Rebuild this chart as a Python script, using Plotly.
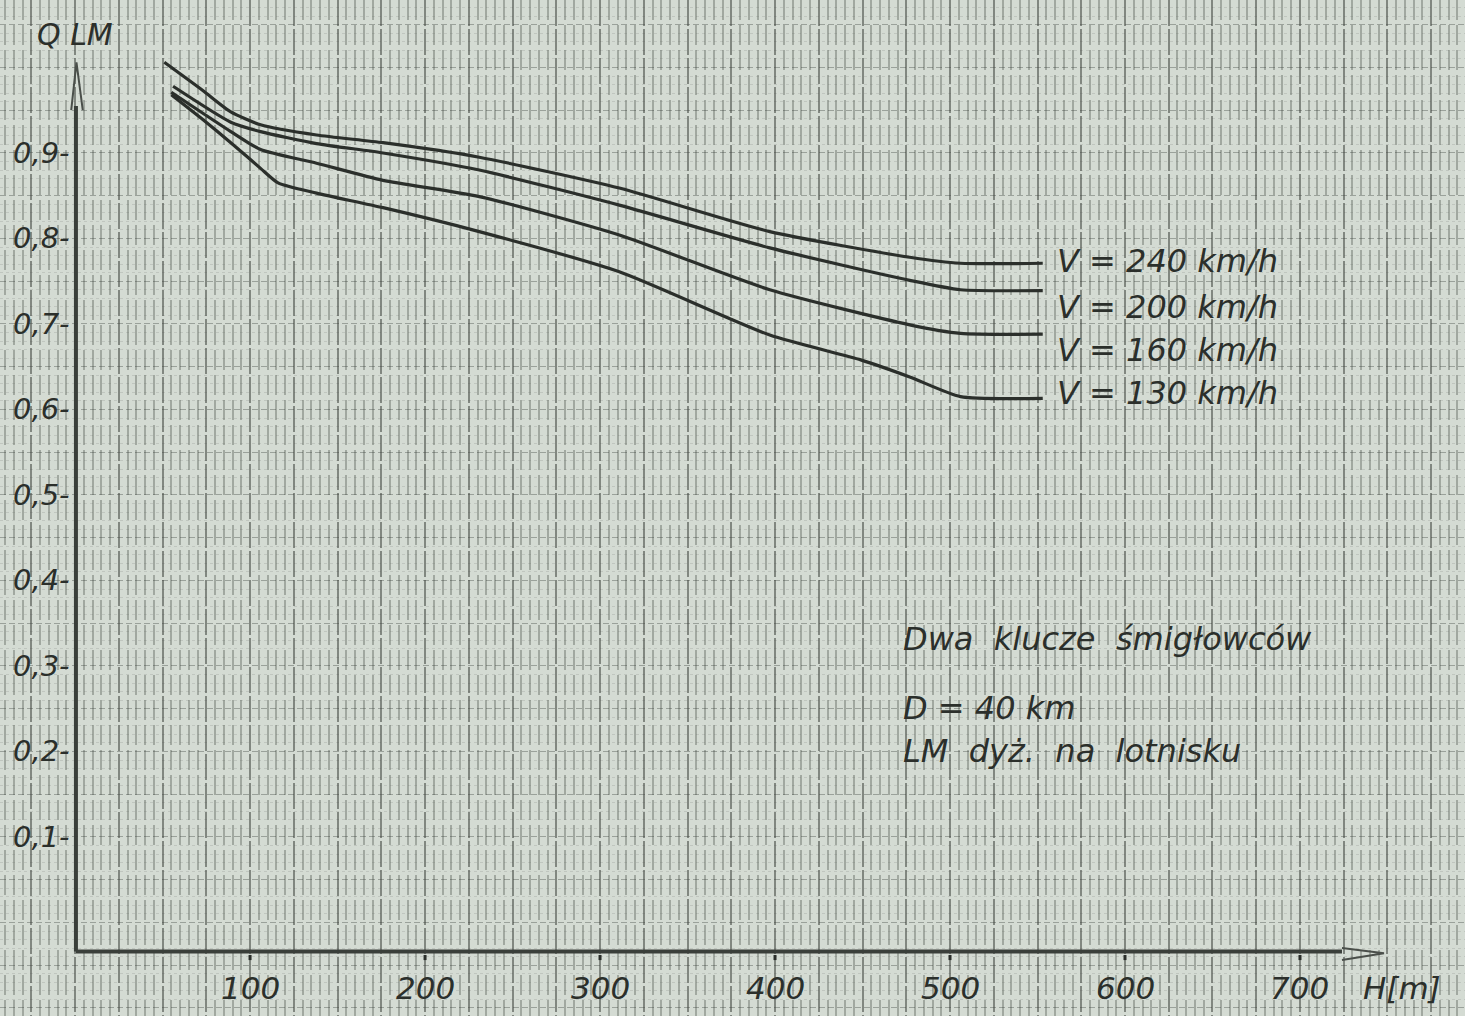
import plotly.graph_objects as go

# Flight altitude H [m] and probability Q_LM for each helicopter speed
H_240 = [51, 73, 89, 106, 138, 176, 231, 311, 397, 477, 506, 553]
Q_240 = [1.006, 0.973, 0.948, 0.933, 0.921, 0.912, 0.895, 0.859, 0.808, 0.778, 0.771, 0.771]

H_200 = [56, 89, 106, 138, 176, 231, 311, 397, 477, 506, 553]
Q_200 = [0.978, 0.936, 0.925, 0.911, 0.900, 0.880, 0.839, 0.789, 0.751, 0.740, 0.739]

H_160 = [55, 89, 106, 138, 176, 231, 311, 397, 477, 506, 553]
Q_160 = [0.971, 0.925, 0.904, 0.888, 0.868, 0.849, 0.804, 0.740, 0.699, 0.689, 0.688]

H_130 = [55, 73, 89, 106, 116, 138, 176, 231, 311, 397, 449, 477, 506, 553]
Q_130 = [0.968, 0.939, 0.912, 0.882, 0.865, 0.853, 0.836, 0.808, 0.761, 0.687, 0.658, 0.638, 0.615, 0.613]

SERIES_LABELS = ["V = 240 km/h", "V = 200 km/h", "V = 160 km/h", "V = 130 km/h"]

X_TICKS = [100, 200, 300, 400, 500, 600, 700]
X_TICK_TEXT = ["100", "200", "300", "400", "500", "600", "700"]
Y_TICKS = [0.9, 0.8, 0.7, 0.6, 0.5, 0.4, 0.3, 0.2, 0.1]
Y_TICK_TEXT = ["0,9-", "0,8-", "0,7-", "0,6-", "0,5-", "0,4-", "0,3-", "0,2-", "0,1-"]

NOTE_LINES = ["Dwa klucze śmigłowców", "D = 40 km", "LM dyż. na lotnisku"]

PAPER = "#d4dbd3"
INK = "#2b2f2b"
FONT = "DejaVu Sans"

X_RANGE = [-42.9, 794.3]
Y_RANGE = [-0.1094, 1.0789]
AXIS_Y = -0.034  # level of the drawn H axis

fig = go.Figure()

# curve labels sit a little off the curve ends so they stack evenly
label_shift = [2, -16, -16, 5]
curves = [(H_240, Q_240), (H_200, Q_200), (H_160, Q_160), (H_130, Q_130)]
for label, (h, q), dy in zip(SERIES_LABELS, curves, label_shift):
    fig.add_trace(go.Scatter(
        x=h, y=q, mode="lines", name=label,
        line=dict(color=INK, width=3.2, shape="spline", smoothing=0.6),
        showlegend=False, hoverinfo="skip",
    ))
    fig.add_annotation(
        x=h[-1], y=q[-1], text=label, showarrow=False,
        xanchor="left", yanchor="middle", xshift=12, yshift=dy,
        font=dict(family=FONT, size=32, color=INK, style="italic"),
    )

# hand-drawn axes with open arrowheads
axis_line = dict(color="#3a3f3a", width=4)
fig.add_shape(type="line", x0=0.5, x1=0.5, y0=AXIS_Y, y1=0.955, line=axis_line)
fig.add_shape(type="line", x0=0.5, x1=724, y0=AXIS_Y, y1=AXIS_Y, line=axis_line)
arrow = dict(color="#4a4f4a", width=2)
fig.add_shape(type="path", path="M -2.2,0.950 L 0.8,1.006 L 4.4,0.950", line=arrow)
fig.add_shape(type="path",
              path=f"M 724,{AXIS_Y + 0.004} L 748,{AXIS_Y - 0.002} L 724,{AXIS_Y - 0.010}",
              line=arrow)

tick_font = dict(family=FONT, size=31, color=INK, style="italic")
for v, t in zip(X_TICKS, X_TICK_TEXT):
    fig.add_annotation(x=v, y=-0.077, text=t, showarrow=False,
                       xanchor="center", yanchor="middle", font=tick_font)
    fig.add_shape(type="line", x0=v, x1=v, y0=AXIS_Y - 0.004, y1=AXIS_Y - 0.010,
                  line=dict(color=INK, width=3))
for v, t in zip(Y_TICKS, Y_TICK_TEXT):
    fig.add_annotation(x=-1.5, y=v, text=t, showarrow=False,
                       xanchor="right", yanchor="middle",
                       font=dict(family=FONT, size=29, color=INK, style="italic"))

fig.add_annotation(x=-23, y=1.038, text="Q LM", showarrow=False,
                   xanchor="left", yanchor="middle",
                   font=dict(family=FONT, size=30, color=INK, style="italic"))
fig.add_annotation(x=735, y=-0.077, text="H[m]", showarrow=False,
                   xanchor="left", yanchor="middle", font=tick_font)

note_font = dict(family=FONT, size=32, color=INK, style="italic")
note_text = [line.replace(" ", "\u00a0\u00a0") if i != 1 else line
             for i, line in enumerate(NOTE_LINES)]
for text, y in zip(note_text, [0.332, 0.251, 0.201]):
    fig.add_annotation(x=472, y=y, text=text, showarrow=False,
                       xanchor="left", yanchor="middle", font=note_font)

# millimetre graph paper: dense dashed verticals, faint horizontals
fig.update_xaxes(
    range=X_RANGE, showticklabels=False, zeroline=False, ticks="",
    showgrid=True, tick0=0, dtick=25, gridcolor="rgba(60,66,60,0.55)", gridwidth=1.8,
    griddash="26px,3px",
    minor=dict(tick0=0, dtick=5, showgrid=True, gridcolor="rgba(85,92,85,0.40)",
               gridwidth=1.5, griddash="20px,5px"),
)
fig.update_yaxes(
    range=Y_RANGE, showticklabels=False, zeroline=False, ticks="",
    showgrid=True, tick0=0, dtick=0.05, gridcolor="rgba(60,66,60,0.38)", gridwidth=1.4,
    griddash="6px,3px",
    minor=dict(tick0=0, dtick=0.01, showgrid=True, gridcolor="rgba(85,92,85,0.16)",
               gridwidth=1, griddash="3px,3px"),
)

fig.update_layout(
    width=1465, height=1016, autosize=False,
    margin=dict(l=0, r=0, t=0, b=0),
    paper_bgcolor=PAPER, plot_bgcolor=PAPER,
)

fig.write_html("out.html")
